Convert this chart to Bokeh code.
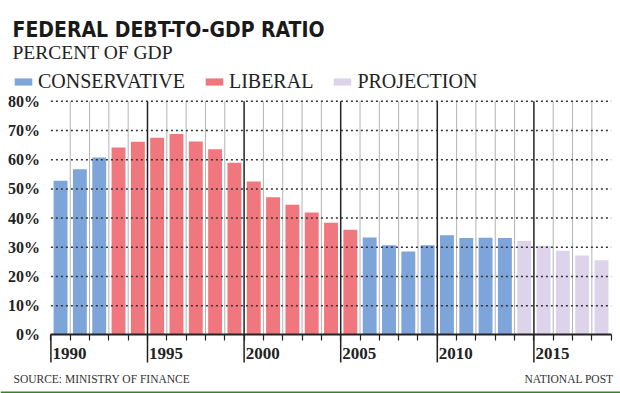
from bokeh.plotting import figure
from bokeh.models import (Range1d, FixedTicker, PrintfTickFormatter, Label,
                          Legend, LegendItem, ColumnDataSource, Arrow, LinearAxis)
from bokeh.embed import file_html
from bokeh.resources import INLINE

# ---------------- data ----------------
years = [1990, 1991, 1992, 1993, 1994, 1995, 1996, 1997, 1998, 1999,
         2000, 2001, 2002, 2003, 2004, 2005, 2006, 2007, 2008, 2009,
         2010, 2011, 2012, 2013, 2014, 2015, 2016, 2017, 2018]
debt_pct = [52.8, 56.7, 60.7, 64.2, 66.1, 67.5, 68.8, 66.2, 63.6, 58.9,
            52.5, 47.1, 44.6, 41.9, 38.4, 36.0, 33.4, 30.7, 28.6, 30.7,
            34.1, 33.2, 33.3, 33.2, 32.2, 30.5, 28.8, 27.2, 25.6]
period = ["CONSERVATIVE", "CONSERVATIVE", "CONSERVATIVE",
          "LIBERAL", "LIBERAL", "LIBERAL", "LIBERAL", "LIBERAL", "LIBERAL",
          "LIBERAL", "LIBERAL", "LIBERAL", "LIBERAL", "LIBERAL", "LIBERAL",
          "LIBERAL",
          "CONSERVATIVE", "CONSERVATIVE", "CONSERVATIVE", "CONSERVATIVE",
          "CONSERVATIVE", "CONSERVATIVE", "CONSERVATIVE", "CONSERVATIVE",
          "PROJECTION", "PROJECTION", "PROJECTION", "PROJECTION", "PROJECTION"]
y_ticks = [0, 10, 20, 30, 40, 50, 60, 70, 80]
label_years = [1990, 1995, 2000, 2005, 2010, 2015]
series = ["CONSERVATIVE", "LIBERAL", "PROJECTION"]
colors = {"CONSERVATIVE": "#7ea5da", "LIBERAL": "#f0777e", "PROJECTION": "#ddd3ea"}

x_start, x_end = years[0], years[-1] + 1
y_top = y_ticks[-1]

# ---------------- canvas geometry (frame fills the whole canvas) ----------------
W, H = 620, 393
X0, XR = 1987.391, 2019.483      # data x at the left / right canvas edge
Y0, YT = -20.02, 114.46          # data y at the bottom / top canvas edge


def dx(px):
    return X0 + px * (XR - X0) / W


def dy(py):
    return YT - py * (YT - Y0) / H


y_floor = dy(362)

p = figure(width=W, height=H, output_backend="svg", toolbar_location=None,
           x_range=Range1d(X0, XR), y_range=Range1d(Y0, YT), min_border=0)
p.outline_line_color = None
p.background_fill_color = "white"
p.border_fill_color = "white"
p.xgrid.visible = False
p.ygrid.visible = False

# left axis at the start of the bars
p.yaxis.ticker = FixedTicker(ticks=y_ticks)
p.yaxis.fixed_location = x_start
p.yaxis.formatter = PrintfTickFormatter(format="%d%%")
p.yaxis.axis_line_color = None
p.yaxis.major_tick_line_color = None
p.yaxis.minor_tick_line_color = None
p.yaxis.major_label_standoff = 5
p.yaxis.major_label_text_font = "Liberation Sans Narrow"
p.yaxis.major_label_text_font_style = "bold"
p.yaxis.major_label_text_font_size = "16px"
p.yaxis.major_label_text_color = "#222222"

# bottom axis at zero: tick marks every year
p.xaxis.ticker = FixedTicker(ticks=years + [x_end])
p.xaxis.fixed_location = 0
p.xaxis.bounds = (x_start, x_end)
p.xaxis.axis_line_color = "#222222"
p.xaxis.axis_line_width = 2
p.xaxis.major_tick_out = 6
p.xaxis.major_tick_in = 0
p.xaxis.major_tick_line_color = "#222222"
p.xaxis.major_tick_line_width = 1.2
p.xaxis.minor_tick_line_color = None
p.xaxis.major_label_overrides = {y: "" for y in years + [x_end]}

# second bottom axis: year labels sitting just right of each 5-year line
label_pos = [y + 0.96 for y in label_years]
lab_axis = LinearAxis(ticker=FixedTicker(ticks=label_pos), fixed_location=0,
                      axis_line_color=None, major_tick_line_color=None,
                      minor_tick_line_color=None, major_label_standoff=7,
                      major_label_overrides={pos: str(y) for pos, y in zip(label_pos, label_years)},
                      major_label_text_font="Liberation Sans Narrow",
                      major_label_text_font_style="bold",
                      major_label_text_font_size="17px",
                      major_label_text_color="#222222")
p.add_layout(lab_axis, "below")

# year separators
gray_years = [y for y in years[1:] if y not in label_years]
p.segment(x0=gray_years, y0=0, x1=gray_years, y1=y_top,
          line_color="#b3b3b3", line_width=1)

# bars
renderers = {}
for s in series:
    xs = [y + 0.5 for y, g in zip(years, period) if g == s]
    tops = [v for v, g in zip(debt_pct, period) if g == s]
    src = ColumnDataSource(dict(x=xs, top=tops))
    renderers[s] = p.vbar(x="x", top="top", width=0.72, bottom=0, source=src,
                          fill_color=colors[s], line_color=None)

# dotted horizontal guides, drawn over the bars
grid_y = y_ticks[1:]
p.segment(x0=[x_start] * len(grid_y), y0=grid_y, x1=[x_end] * len(grid_y), y1=grid_y,
          line_color="#333333", line_dash="2 3", line_width=1.5)

# five-year black separators
p.segment(x0=label_years[1:], y0=y_floor, x1=label_years[1:], y1=y_top,
          line_color="#222222", line_width=1.5)
p.segment(x0=label_years[:1], y0=y_floor, x1=label_years[:1], y1=0,
          line_color="#222222", line_width=1.5)

# header
p.add_layout(Label(x=dx(12), y=dy(29), text="FEDERAL DEBT-TO-GDP RATIO",
                   text_font="DejaVu Sans Condensed", text_font_style="bold",
                   text_font_size="21px", text_color="#1a1a1a",
                   text_baseline="alphabetic"))
p.add_layout(Label(x=dx(12), y=dy(52), text="PERCENT OF GDP",
                   text_font="Liberation Serif", text_font_size="19.5px",
                   text_color="#222222", text_baseline="alphabetic"))

legend = Legend(items=[LegendItem(label=s, renderers=[renderers[s]]) for s in series],
                orientation="horizontal", location=(12, 300),
                glyph_width=22, glyph_height=9, label_standoff=4, spacing=18,
                padding=0, margin=0, border_line_color=None,
                background_fill_alpha=0, label_text_font="Liberation Serif",
                label_text_font_size="20px", label_text_color="#222222")
p.add_layout(legend)

# footer
p.add_layout(Label(x=dx(13), y=dy(378), text="SOURCE: MINISTRY OF FINANCE",
                   text_font="Liberation Serif", text_font_size="11.5px",
                   text_color="#333333", text_baseline="alphabetic"))
p.add_layout(Label(x=dx(613), y=dy(378), text="NATIONAL POST",
                   text_font="Liberation Serif", text_font_size="11.5px",
                   text_color="#333333", text_align="right",
                   text_baseline="alphabetic"))
p.add_layout(Arrow(end=None, x_start=X0, y_start=dy(392), x_end=XR,
                   y_end=dy(392), line_color="#3a7f2f", line_width=2))

open("out.html", "w").write(file_html(p, INLINE))
